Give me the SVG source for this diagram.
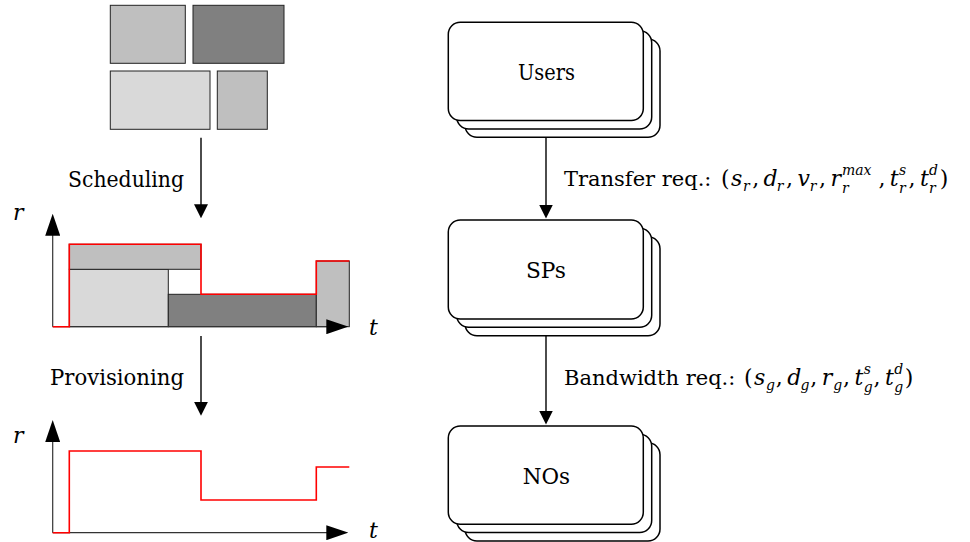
<svg xmlns="http://www.w3.org/2000/svg" width="970" height="542" viewBox="0 0 970 542">
<style>
.blk{stroke:#222;stroke-width:1}
.g1{fill:#bfbfbf}.g2{fill:#808080}.g3{fill:#d9d9d9}
.red{fill:none;stroke:#ff0000;stroke-width:1.6}
.ax{fill:none;stroke:#333;stroke-width:1.2}
.ar{fill:none;stroke:#000;stroke-width:1.4}
.nd{fill:#fff;stroke:#000;stroke-width:1.5}
text{font-family:'DejaVu Serif','Liberation Serif',serif;font-size:22px;fill:#000}
.big{font-size:23px}
.lb{font-size:21px}
.i{font-style:italic}
.s{font-size:14px}
</style>
<defs>
<marker id="ah" viewBox="0 0 14 14" refX="1" refY="7" markerWidth="14" markerHeight="14" markerUnits="userSpaceOnUse" orient="auto">
<path d="M0,0 L14,7 L0,14 z" fill="#000"/>
</marker>
<marker id="axh" viewBox="0 0 22 15" refX="1" refY="7.5" markerWidth="22" markerHeight="15" markerUnits="userSpaceOnUse" orient="auto">
<path d="M0,0 L22,7.5 L0,15 z" fill="#000"/>
</marker>
</defs>

<g id="requests">
<rect class="blk g1" x="110.3" y="5.3" width="75" height="58"/>
<rect class="blk g2" x="193" y="5.3" width="91" height="58"/>
<rect class="blk g3" x="110.3" y="71" width="99.7" height="58.3"/>
<rect class="blk g1" x="217.3" y="71" width="50" height="58.3"/>
</g>

<g id="schedule-chart">
<rect class="blk g3" x="69.3" y="269.3" width="99" height="57.4"/>
<rect class="blk g1" x="69.3" y="244.3" width="131.7" height="25"/>
<rect class="blk g2" x="168.3" y="294.3" width="148" height="32.4"/>
<rect class="blk g1" x="316.3" y="261" width="33" height="65.7"/>
<line class="ax" x1="52.7" y1="326.7" x2="52.7" y2="234.7" marker-end="url(#axh)"/>
<line class="ax" x1="52.7" y1="326.7" x2="327.3" y2="326.7" marker-end="url(#axh)"/>
<polyline class="red" points="52.7,326.7 69.3,326.7 69.3,244.3 201,244.3 201,294.3 316.3,294.3 316.3,261 349.3,261"/>
<text class="i" x="13" y="220">r</text>
<text class="i" x="369" y="335">t</text>
</g>

<g id="provision-chart">
<line class="ax" x1="52.7" y1="532.7" x2="52.7" y2="441" marker-end="url(#axh)"/>
<line class="ax" x1="52.7" y1="532.7" x2="327.3" y2="532.7" marker-end="url(#axh)"/>
<polyline class="red" points="52.7,532.7 69.3,532.7 69.3,451 201,451 201,500 316.3,500 316.3,467 349.3,467"/>
<text class="i" x="13" y="443">r</text>
<text class="i" x="369" y="538">t</text>
</g>

<g id="users">
<rect class="nd" x="465" y="39" width="195" height="98.3" rx="12"/>
<rect class="nd" x="456.7" y="30.7" width="195" height="98.3" rx="12"/>
<rect class="nd" x="448.3" y="22.3" width="195" height="98.3" rx="12"/>
<text class="big" x="518" y="80" textLength="57" lengthAdjust="spacingAndGlyphs">Users</text>
</g>
<g id="sps">
<rect class="nd" x="465" y="236.7" width="195" height="99" rx="12"/>
<rect class="nd" x="456.7" y="228.3" width="195" height="99" rx="12"/>
<rect class="nd" x="448.3" y="220" width="195" height="99" rx="12"/>
<text class="big" x="526" y="278" textLength="40" lengthAdjust="spacingAndGlyphs">SPs</text>
</g>
<g id="nos">
<rect class="nd" x="465" y="442.7" width="195" height="98.3" rx="12"/>
<rect class="nd" x="456.7" y="434.3" width="195" height="98.3" rx="12"/>
<rect class="nd" x="448.3" y="426" width="195" height="98.3" rx="12"/>
<text class="big" x="522.7" y="484" textLength="47.3" lengthAdjust="spacingAndGlyphs">NOs</text>
</g>

<g id="connectors">
<line class="ar" x1="201" y1="137.7" x2="201" y2="205.3" marker-end="url(#ah)"/>
<line class="ar" x1="201" y1="336" x2="201" y2="402.7" marker-end="url(#ah)"/>
<line class="ar" x1="546" y1="137.3" x2="546" y2="205.5" marker-end="url(#ah)"/>
<line class="ar" x1="546" y1="335.7" x2="546" y2="411.5" marker-end="url(#ah)"/>
</g>

<g id="labels">
<text class="big" x="68" y="187" textLength="116" lengthAdjust="spacingAndGlyphs">Scheduling</text>
<text class="big" x="50" y="385" textLength="134" lengthAdjust="spacingAndGlyphs">Provisioning</text>
<text y="186">
<tspan class="lb" x="564">Transfer req.:</tspan>
<tspan x="721">(</tspan><tspan class="i" x="730.9">s</tspan><tspan class="i s" x="742.9" y="191">r</tspan><tspan x="752.2" y="186">,</tspan>
<tspan class="i" x="763.5">d</tspan><tspan class="i s" x="776.8" y="191">r</tspan><tspan x="786.1" y="186">,</tspan>
<tspan class="i" x="797.4">v</tspan><tspan class="i s" x="809.8" y="191">r</tspan><tspan x="819.1" y="186">,</tspan>
<tspan class="i" x="830.4">r</tspan><tspan class="i s" x="841.9" y="175">max</tspan><tspan class="i s" x="841.9" y="193">r</tspan><tspan x="878.5" y="186">,</tspan>
<tspan class="i" x="889.8">t</tspan><tspan class="i s" x="899" y="175">s</tspan><tspan class="i s" x="899" y="193">r</tspan><tspan x="908.6" y="186">,</tspan>
<tspan class="i" x="919.9">t</tspan><tspan class="i s" x="929.1" y="175">d</tspan><tspan class="i s" x="929.1" y="193">r</tspan><tspan x="939.7" y="186">)</tspan>
</text>
<text y="385">
<tspan class="lb" x="564">Bandwidth req.:</tspan>
<tspan x="744">(</tspan><tspan class="i" x="754">s</tspan><tspan class="i s" x="766" y="390">g</tspan><tspan x="775.8" y="385">,</tspan>
<tspan class="i" x="787.2">d</tspan><tspan class="i s" x="800.5" y="390">g</tspan><tspan x="810.3" y="385">,</tspan>
<tspan class="i" x="821.7">r</tspan><tspan class="i s" x="833.2" y="390">g</tspan><tspan x="843.1" y="385">,</tspan>
<tspan class="i" x="854.5">t</tspan><tspan class="i s" x="863.7" y="374">s</tspan><tspan class="i s" x="863.7" y="392">g</tspan><tspan x="873.6" y="385">,</tspan>
<tspan class="i" x="885">t</tspan><tspan class="i s" x="894.2" y="374">d</tspan><tspan class="i s" x="894.2" y="392">g</tspan><tspan x="904.8" y="385">)</tspan>
</text>
</g>
</svg>
